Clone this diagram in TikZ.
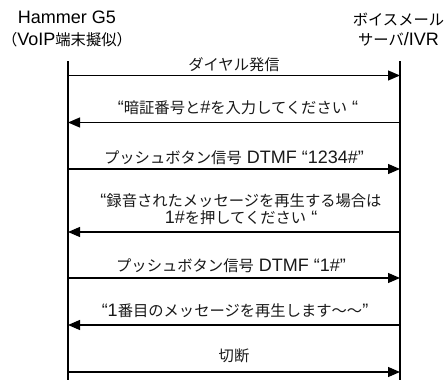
\documentclass[tikz,border=0pt]{standalone}
\usepackage{fontspec}
\setmainfont{Liberation Sans}
\newfontfamily\J[Scale=0.85]{Noto Sans CJK JP}
\usetikzlibrary{arrows.meta}
\newcommand\tightlines{\lineskiplimit=-20pt\relax\lineskip=0pt\relax}
\begin{document}
\begin{tikzpicture}[x=1pt,y=-1pt,
  font=\fontsize{18}{22}\selectfont,
  life/.style={line width=1.2pt},
  msg/.style={line width=1.2pt,-{Triangle[length=12pt,width=10pt]}},
  lbl/.style={anchor=base,inner sep=0pt,text=black!90}]
\useasboundingbox (0,0) rectangle (445,380);
% headers
\node[align=center,anchor=north,inner sep=0pt] (hA) at (67,10.5)
  {Hammer G5\\{\J （}VoIP{\J 端末擬似）}};
\node[align=center,anchor=north,inner sep=0pt,font=\fontsize{18}{19.5}\selectfont] (hB) at (398.5,13)
  {{\J ボイスメール}\\{\J サーバ}/IVR};
% lifelines
\coordinate (A0) at (68,61);  \coordinate (Aend) at (68,380);
\coordinate (B0) at (400,61); \coordinate (Bend) at (400,380);
\draw[life] (A0) -- (Aend);
\draw[life] (B0) -- (Bend);
% message rows
\foreach \n/\y in {1/75.5,2/122.5,3/169,4/232,5/278,6/325,7/372}{
  \coordinate (a\n) at (68,\y);
  \coordinate (b\n) at (400,\y);
}
\draw[msg] (a1) -- (b1);
\draw[msg] (b2) -- (a2);
\draw[msg] (a3) -- (b3);
\draw[msg] (b4) -- (a4);
\draw[msg] (a5) -- (b5);
\draw[msg] (b6) -- (a6);
\draw[msg] (a7) -- (b7);
% labels
\node[lbl] (m1) at (234,70.5) {\J ダイヤル発信};
\node[lbl] (m2) at (238,113.5) {“{\J 暗証番号と}\#{\J を入力してください} “};
\node[lbl] (m3) at (234,163) {{\J プッシュボタン信号} DTMF “1234\#”};
\node[lbl,align=center,anchor=south,font=\fontsize{18}{17}\selectfont\tightlines] (m4) at (241,225)
  {“{\J 録音されたメッセージを再生する場合は}\\1\#{\J を押してください} “};
\node[lbl] (m5) at (231,271.5) {{\J プッシュボタン信号} DTMF “1\#”};
\node[lbl] (m6) at (235,316.5) {“1{\J 番目のメッセージを再生します〜〜}”};
\node[lbl] (m7) at (234,361.5) {\J 切断};
\end{tikzpicture}
\end{document}
